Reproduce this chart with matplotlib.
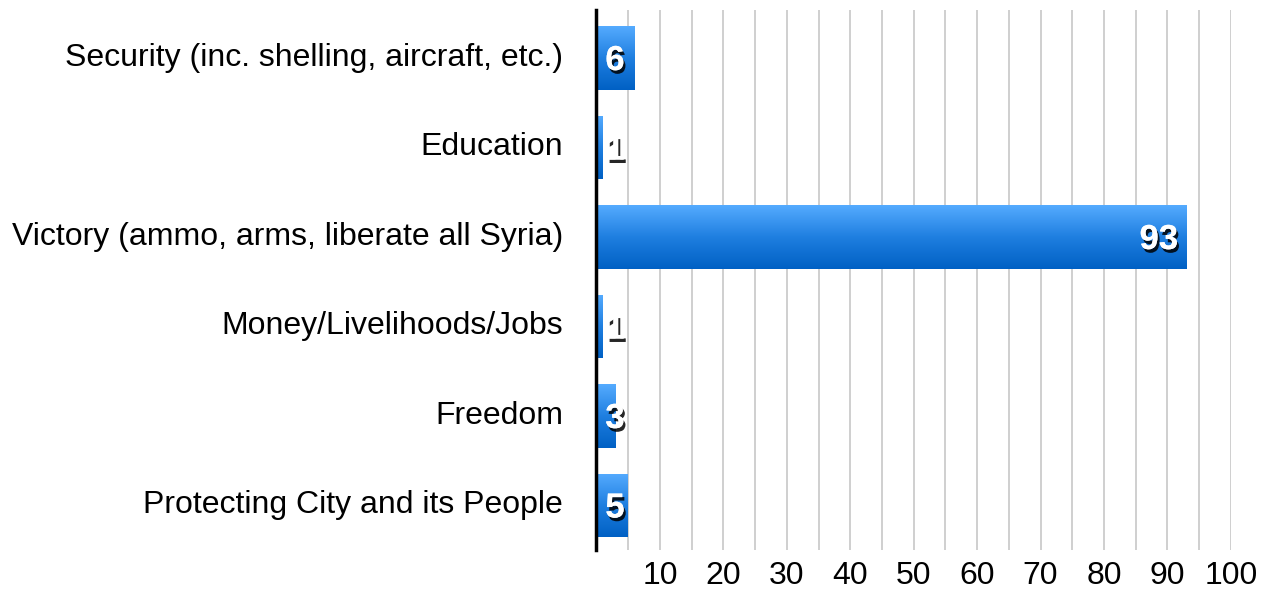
import matplotlib
matplotlib.use("Agg")
import matplotlib.pyplot as plt
import matplotlib.patheffects as pe
from matplotlib.colors import LinearSegmentedColormap
import numpy as np

categories = [
    "Security (inc. shelling, aircraft, etc.)",
    "Education",
    "Victory (ammo, arms, liberate all Syria)",
    "Money/Livelihoods/Jobs",
    "Freedom",
    "Protecting City and its People",
]
values = [6, 1, 93, 1, 3, 5]
tick_values = list(range(10, 101, 10))

plt.rcParams["font.family"] = ["Liberation Sans", "DejaVu Sans"]

fig = plt.figure(figsize=(12.69, 5.95), dpi=100)
ax = fig.add_axes([0.470, 0.0756, 0.500, 0.9076])

y = np.arange(len(categories))
bars = ax.barh(y, values, height=0.71, color="none", edgecolor="none", zorder=2)

# vertical gradient, light blue on top to darker blue at bottom
grad_cmap = LinearSegmentedColormap.from_list("bluegrad", ["#55abff", "#1f7fe0", "#0060c4"])
grad = np.linspace(0, 1, 256).reshape(-1, 1)
for bar in bars:
    x0, y0 = bar.get_x(), bar.get_y()
    w, h = bar.get_width(), bar.get_height()
    im = ax.imshow(grad, cmap=grad_cmap, aspect="auto", origin="upper",
                   extent=[x0, x0 + w, y0 + h, y0], zorder=2)
    im.set_clip_path(bar)

shadow = [pe.withSimplePatchShadow(offset=(1.5, -2.5), shadow_rgbFace="black", alpha=0.85),
          pe.Normal()]
for yi, v in zip(y, values):
    if v < 10:
        ax.text(1.4, yi + 0.03, str(v), ha="left", va="center", color="white",
                fontsize=25, fontweight="bold", path_effects=shadow, zorder=4)
    else:
        ax.text(v - 1.3, yi + 0.03, str(v), ha="right", va="center", color="white",
                fontsize=25, fontweight="bold", path_effects=shadow, zorder=4)

ax.set_xlim(0, 100)
ax.set_ylim(len(categories) - 0.5, -0.535)
ax.set_yticks(y)
ax.set_yticklabels(categories, fontsize=23, va="center")
ax.set_xticks(tick_values)
ax.set_xticklabels([str(t) for t in tick_values], fontsize=23)
ax.set_xticks(np.arange(5, 101, 5), minor=True)
ax.tick_params(axis="both", which="both", length=0)
ax.tick_params(axis="y", pad=24)
ax.tick_params(axis="x", pad=8)

ax.grid(axis="x", which="both", color="#cccccc", linewidth=1.3, zorder=0)
ax.set_axisbelow(True)
for side in ["top", "right", "bottom"]:
    ax.spines[side].set_visible(False)
ax.spines["left"].set_linewidth(2.5)
ax.spines["left"].set_color("black")
ax.spines["left"].set_zorder(5)

fig.savefig("out.png", dpi=100)
